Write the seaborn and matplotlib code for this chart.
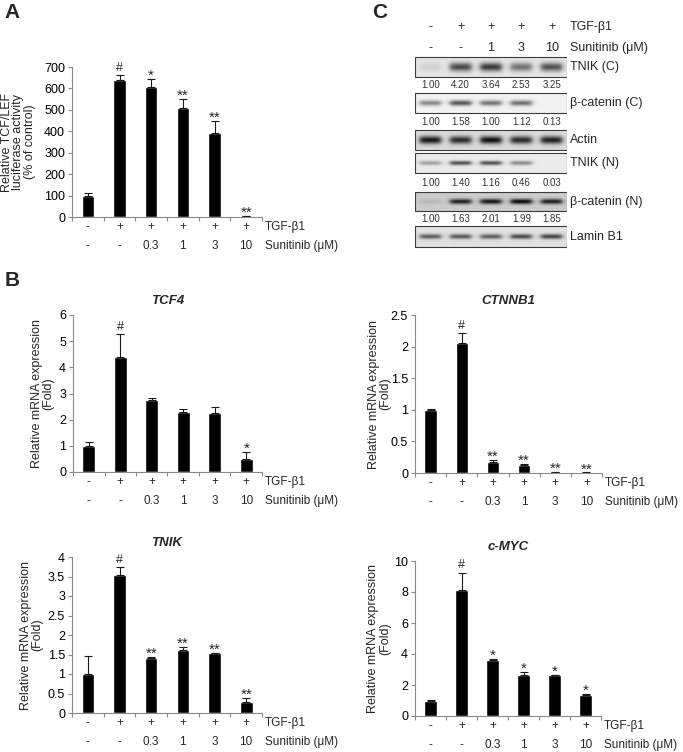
import matplotlib

matplotlib.use("Agg")

import matplotlib.pyplot as plt
from matplotlib.patches import Rectangle
from matplotlib.ticker import FuncFormatter
import numpy as np
import pandas as pd
import seaborn as sns

FIG_W, FIG_H = 683, 752

# ---- bar panels (A, B) ----
groups = ["ctrl", "tgf", "s0.3", "s1", "s3", "s10"]
tgf_row = ["-", "+", "+", "+", "+", "+"]
sun_row = ["-", "-", "0.3", "1", "3", "10"]

luc_mean = [100, 639, 609, 509, 392, 5]
luc_err = [12, 24, 33, 42, 56, 2]
luc_sig = ["", "#", "*", "**", "**", "**"]

tcf4_mean = [1.0, 4.38, 2.77, 2.30, 2.27, 0.50]
tcf4_err = [0.15, 0.88, 0.04, 0.12, 0.20, 0.28]
tcf4_sig = ["", "#", "", "", "", "*"]

ctnnb1_mean = [1.0, 2.05, 0.18, 0.13, 0.01, 0.005]
ctnnb1_err = [0.01, 0.17, 0.03, 0.01, 0.005, 0.003]
ctnnb1_sig = ["", "#", "**", "**", "**", "**"]

tnik_mean = [1.0, 3.53, 1.42, 1.62, 1.53, 0.27]
tnik_err = [0.45, 0.22, 0.02, 0.08, 0.01, 0.12]
tnik_sig = ["", "#", "**", "**", "**", "**"]

myc_mean = [1.0, 8.1, 3.6, 2.63, 2.62, 1.38]
myc_err = [0.03, 1.15, 0.05, 0.20, 0.02, 0.06]
myc_sig = ["", "#", "*", "*", "*", "*"]

# ---- western blot (C) ----
blot_tgf = ["-", "+", "+", "+", "+"]
blot_sun = ["-", "-", "1", "3", "10"]
blot_names = ["TNIK (C)", "β-catenin (C)", "Actin", "TNIK (N)", "β-catenin (N)", "Lamin B1"]
band_tnik_c = [0.08, 0.62, 0.68, 0.45, 0.58]
band_bcat_c = [0.42, 0.62, 0.50, 0.52, 0.0]
band_actin = [0.78, 0.70, 0.80, 0.70, 0.74]
band_tnik_n = [0.30, 0.62, 0.62, 0.38, 0.0]
band_bcat_n = [0.08, 0.68, 0.72, 0.78, 0.68]
band_lamin = [0.52, 0.54, 0.52, 0.60, 0.62]
quant_tnik_c = ["1.00", "4.20", "3.64", "2.53", "3.25"]
quant_bcat_c = ["1.00", "1.58", "1.00", "1.12", "0.13"]
quant_tnik_n = ["1.00", "1.40", "1.16", "0.46", "0.03"]
quant_bcat_n = ["1.00", "1.63", "2.01", "1.99", "1.85"]

sns.set_style("ticks")
plt.rcParams["font.family"] = ["Liberation Sans", "DejaVu Sans"]
plt.rcParams["axes.linewidth"] = 0.8

AXIS_GREY = "#8a8a8a"
FS = 9
ROW_FS = 8.5


def px_axes(fig, x0, y0, x1, y1):
    return fig.add_axes([x0 / FIG_W, 1 - y1 / FIG_H, (x1 - x0) / FIG_W, (y1 - y0) / FIG_H])


def bar_panel(ax, means, errs, sigs, ymax, ystep, ylabel, label_x, title=None):
    df = pd.DataFrame({"group": groups, "value": means})
    sns.barplot(data=df, x="group", y="value", order=groups, color="black",
                saturation=1, width=0.4, errorbar=None, ax=ax)
    pos = np.arange(len(groups))
    ax.errorbar(pos, means, yerr=[np.zeros(len(errs)), errs], fmt="none",
                ecolor="#1a1a1a", elinewidth=0.8, capsize=2.6, capthick=0.8)
    for i, s in enumerate(sigs):
        if not s:
            continue
        if s == "#":
            off, fsz = 3.0, 9
        else:
            off, fsz = -0.6, 11
        ax.annotate(s, xy=(i, means[i] + errs[i]), xytext=(0, off),
                    textcoords="offset points", ha="center", va="baseline",
                    fontsize=fsz)
    ax.set_xlim(-0.5, len(groups) - 0.5)
    ax.set_ylim(0, ymax)
    ax.set_yticks(np.arange(0, ymax + ystep / 2, ystep))
    ax.yaxis.set_major_formatter(FuncFormatter(lambda v, _: f"{v:g}"))
    ax.set_xticks(np.arange(-0.5, len(groups), 1.0))
    ax.set_xticklabels([])
    ax.tick_params(axis="both", length=3, width=0.8, color=AXIS_GREY,
                   labelsize=FS, labelcolor="black", pad=2)
    sns.despine(ax=ax)
    for sp in ("left", "bottom"):
        ax.spines[sp].set_color(AXIS_GREY)
    ax.set_xlabel("")
    ax.set_ylabel(ylabel, fontsize=FS, linespacing=0.95)
    ax.yaxis.set_label_coords(label_x, 0.5)
    for i in range(len(groups)):
        ax.annotate(tgf_row[i], xy=(i, 0), xycoords=("data", "axes fraction"),
                    xytext=(0, -7.5), textcoords="offset points",
                    ha="center", va="center", fontsize=ROW_FS)
        ax.annotate(sun_row[i], xy=(i, 0), xycoords=("data", "axes fraction"),
                    xytext=(0, -21), textcoords="offset points",
                    ha="center", va="center", fontsize=ROW_FS)
    ax.annotate("TGF-β1", xy=(1, 0), xycoords="axes fraction", xytext=(2.2, -7.5),
                textcoords="offset points", ha="left", va="center", fontsize=ROW_FS)
    ax.annotate("Sunitinib (μM)", xy=(1, 0), xycoords="axes fraction",
                xytext=(2.2, -21), textcoords="offset points", ha="left",
                va="center", fontsize=ROW_FS)
    if title:
        ax.set_title(title, fontsize=9.5, fontweight="bold", fontstyle="italic", pad=8)


def draw_strip(ax, top, bottom, intensity, bg, sigma, name):
    xs = np.linspace(-0.5, 4.5, 300)
    ys = np.linspace(0, 1, 40)
    X, Y = np.meshgrid(xs, ys)
    img = np.full_like(X, bg)
    for i, v in enumerate(intensity):
        lane = 1 / (1 + np.exp((np.abs(X - i) - 0.35) / 0.05))
        band = np.exp(-((Y - 0.5) / sigma) ** 2)
        img += v * lane * band
    ax.imshow(np.clip(img, 0, 1), cmap="gray_r", vmin=0, vmax=1,
              extent=(-0.5, 4.5, bottom, top), aspect="auto", interpolation="bilinear")
    ax.add_patch(Rectangle((-0.5, top), 5, bottom - top, fill=False,
                           edgecolor="#3a3a3a", lw=0.8))
    ax.text(4.6, (top + bottom) / 2, name, ha="left", va="center", fontsize=FS)


fig = plt.figure(figsize=(FIG_W / 100, FIG_H / 100), dpi=100)

# Panel A
ax_a = px_axes(fig, 72, 67, 262, 217)
bar_panel(ax_a, luc_mean, luc_err, luc_sig, 700, 100,
          "Relative TCF/LEF\nluciferase activity\n(% of control)", -0.19)

# Panel B
ax_b1 = px_axes(fig, 73, 315, 262, 472)
bar_panel(ax_b1, tcf4_mean, tcf4_err, tcf4_sig, 6, 1,
          "Relative mRNA expression\n(Fold)", -0.10, "TCF4")
ax_b2 = px_axes(fig, 415, 315, 602, 473)
bar_panel(ax_b2, ctnnb1_mean, ctnnb1_err, ctnnb1_sig, 2.5, 0.5,
          "Relative mRNA expression\n(Fold)", -0.125, "CTNNB1")
ax_b3 = px_axes(fig, 72, 557, 262, 713)
bar_panel(ax_b3, tnik_mean, tnik_err, tnik_sig, 4, 0.5,
          "Relative mRNA expression\n(Fold)", -0.15, "TNIK")
ax_b4 = px_axes(fig, 415, 561, 601, 716)
bar_panel(ax_b4, myc_mean, myc_err, myc_sig, 10, 2,
          "Relative mRNA expression\n(Fold)", -0.13, "c-MYC")

# Panel C (blot)
ax_c = px_axes(fig, 415, 20, 567, 250)
ax_c.set_xlim(-0.5, 4.5)
ax_c.set_ylim(250, 20)
ax_c.axis("off")
for i in range(5):
    ax_c.text(i, 27, blot_tgf[i], ha="center", va="center", fontsize=FS)
    ax_c.text(i, 48, blot_sun[i], ha="center", va="center", fontsize=FS)
ax_c.text(4.6, 27, "TGF-β1", ha="left", va="center", fontsize=FS)
ax_c.text(4.6, 48, "Sunitinib (μM)", ha="left", va="center", fontsize=FS)

strips = [
    (57, 77, band_tnik_c, 0.10, 0.22),
    (93, 113, band_bcat_c, 0.05, 0.14),
    (130, 150, band_actin, 0.14, 0.2),
    (153, 173, band_tnik_n, 0.08, 0.11),
    (192, 211, band_bcat_n, 0.20, 0.14),
    (226, 247, band_lamin, 0.12, 0.12),
]
for (top, bottom, inten, bg, sig), name in zip(strips, blot_names):
    draw_strip(ax_c, top, bottom, inten, bg, sig, name)

for y, vals in ((85, quant_tnik_c), (122, quant_bcat_c), (183, quant_tnik_n), (219, quant_bcat_n)):
    for i, v in enumerate(vals):
        ax_c.text(i, y, v, ha="center", va="center", fontsize=7, color="#333333")

for lbl, x, y in (("A", 12, 12), ("B", 12, 280), ("C", 380, 12)):
    fig.text(x / FIG_W, 1 - y / FIG_H, lbl, ha="center", va="center",
             fontsize=15, fontweight="bold")

fig.savefig("out.png", dpi=100)
